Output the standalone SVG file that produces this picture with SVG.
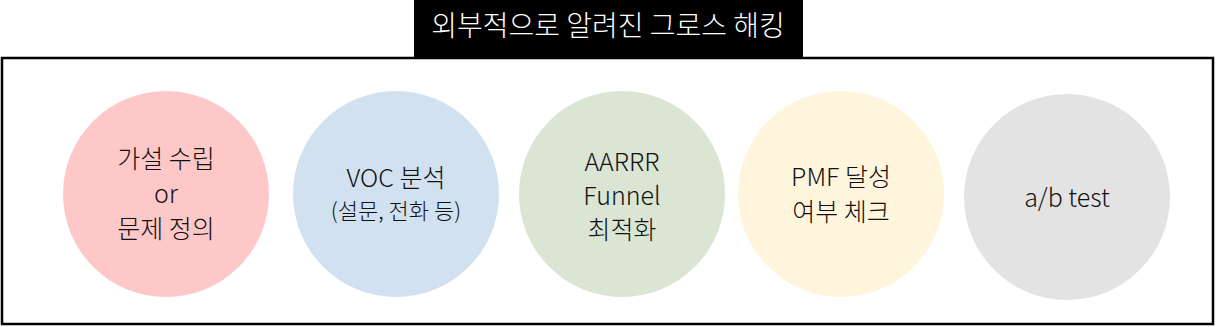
<svg xmlns="http://www.w3.org/2000/svg" width="1216" height="327" viewBox="0 0 1216 327">
<style>
text{font-family:"Noto Sans CJK KR","Noto Sans",sans-serif;fill:#111;text-anchor:middle;font-size:25px;font-weight:300}
.small{font-size:22px}
.title{fill:#fff;font-size:28px}
</style>
<rect x="0" y="0" width="1216" height="327" fill="#fff"/>
<g id="frame">
<rect x="2" y="58" width="1211" height="266" fill="#fff" stroke="#000" stroke-width="2.5"/>
</g>
<g id="title">
<rect x="414" y="0" width="389" height="57" fill="#000"/>
<text class="title" x="608" y="36">외부적으로 알려진 그로스 해킹</text>
</g>
<g id="connectors"></g>
<g id="n1">
<circle cx="166" cy="194" r="103" fill="#FFC8C8"/>
<text x="166" y="168">가설 수립</text>
<text x="166" y="203">or</text>
<text x="166" y="238">문제 정의</text>
</g>
<g id="n2">
<circle cx="396" cy="194" r="103" fill="#D1E1F0"/>
<text x="396" y="187">VOC 분석</text>
<text class="small" x="396" y="219">(설문, 전화 등)</text>
</g>
<g id="n3">
<circle cx="622" cy="194" r="103" fill="#DAE5D4"/>
<text x="622" y="171">AARRR</text>
<text x="622" y="205">Funnel</text>
<text x="622" y="239">최적화</text>
</g>
<g id="n4">
<circle cx="841" cy="194" r="103" fill="#FFF5DD"/>
<text x="841" y="186">PMF 달성</text>
<text x="841" y="221">여부 체크</text>
</g>
<g id="n5">
<circle cx="1067" cy="197" r="103" fill="#E3E3E3"/>
<text x="1067" y="207">a/b test</text>
</g>
</svg>
